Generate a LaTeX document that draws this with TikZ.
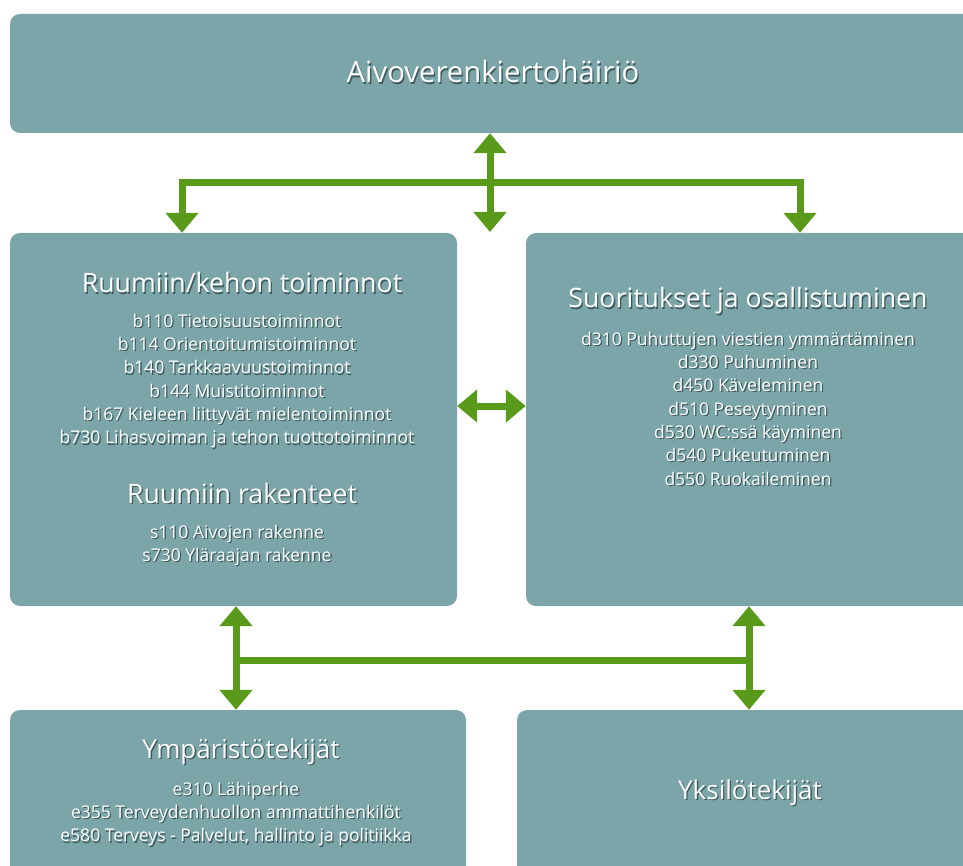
\documentclass[tikz,border=0pt]{standalone}
\usepackage{fontspec}
\setmainfont{Open Sans}
\usetikzlibrary{arrows.meta}
\definecolor{boxc}{HTML}{7BA5A9}
\definecolor{greenc}{HTML}{5A9A1B}
\definecolor{shadowc}{HTML}{3E5A5C}
\newcommand\sh[1]{\leavevmode\rlap{\kern1.3pt\raisebox{-1.3pt}{\color{shadowc}#1}}#1}
\tikzset{
  box/.style={fill=boxc, draw=none, rounded corners=10pt},
  ttl/.style={text=white, anchor=base, font=\fontsize{26}{30}\selectfont, inner sep=0pt},
  hd/.style={text=white, anchor=base, font=\fontsize{26.7}{30}\selectfont, inner sep=0pt},
  lst/.style={text=white, anchor=base, align=center, font=\fontsize{17.5}{23.33}\selectfont, inner sep=0pt},
  arrboth/.style={draw=greenc, line width=7pt, {Triangle[width=32pt,length=20pt]}-{Triangle[width=32pt,length=20pt]}},
  arrone/.style={draw=greenc, line width=7pt, -{Triangle[width=32pt,length=20pt]}},
}
\begin{document}
\begin{tikzpicture}[x=1pt,y=-1pt]
\useasboundingbox (0,0) rectangle (963,866);
\clip (0,0) rectangle (963,866);
% boxes
\node[box, minimum width=975pt, minimum height=119pt] (top) at (497.5,73.5) {};
\node[box, minimum width=447pt, minimum height=373pt] (bf) at (233.5,419.5) {};
\node[box, minimum width=460pt, minimum height=373pt] (act) at (756,419.5) {};
\node[box, minimum width=456pt, minimum height=166pt] (env) at (238,793) {};
\node[box, minimum width=470pt, minimum height=166pt] (pers) at (752,793) {};
% texts
\node[ttl, font=\fontsize{29.3}{32}\selectfont] (ttop) at (493,83) {\sh{Aivoverenkiertohäiriö}};
\node[hd] (hbf) at (242,293) {\sh{Ruumiin/kehon toiminnot}};
\node[lst] (lbf) at (237,443.7) {\sh{b110 Tietoisuustoiminnot}\\ \sh{b114 Orientoitumistoiminnot}\\ \sh{b140 Tarkkaavuustoiminnot}\\ \sh{b144 Muistitoiminnot}\\ \sh{b167 Kieleen liittyvät mielentoiminnot}\\ \sh{b730 Lihasvoiman ja tehon tuottotoiminnot}};
\node[hd] (hst) at (242,503) {\sh{Ruumiin rakenteet}};
\node[lst] (lst) at (237,561.5) {\sh{s110 Aivojen rakenne}\\ \sh{s730 Yläraajan rakenne}};
\node[hd] (hact) at (748,308) {\sh{Suoritukset ja osallistuminen}};
\node[lst] (lact) at (748,485) {\sh{d310 Puhuttujen viestien ymmärtäminen}\\ \sh{d330 Puhuminen}\\ \sh{d450 Käveleminen}\\ \sh{d510 Peseytyminen}\\ \sh{d530 WC:ssä käyminen}\\ \sh{d540 Pukeutuminen}\\ \sh{d550 Ruokaileminen}};
\node[ttl] (henv) at (241,758) {\sh{Ympäristötekijät}};
\node[lst] (lenv) at (236,841.7) {\sh{e310 Lähiperhe}\\ \sh{e355 Terveydenhuollon ammattihenkilöt}\\ \sh{e580 Terveys - Palvelut, hallinto ja politiikka}};
\node[ttl] (hpers) at (750,799) {\sh{Yksilötekijät}};
% connectors
\coordinate (hub) at (490,183);
\coordinate (hl) at (182,183);
\coordinate (hr) at (800,183);
\coordinate (gap) at (490,232);
\draw[arrone] (hub) -- (hub |- top.south);
\draw[arrone] (hub) -- (gap);
\draw[arrboth] (hl |- bf.north) -- (hl) -- (hr) -- (hr |- act.north);
\coordinate (mid) at (490,406);
\draw[arrboth] (bf.east |- mid) -- (act.west |- mid);
\coordinate (bl) at (236,660);
\coordinate (br) at (749,660);
\draw[arrboth] (bl |- bf.south) -- (bl |- env.north);
\draw[arrboth] (br |- act.south) -- (br |- pers.north);
\draw[draw=greenc, line width=7pt] (bl) -- (br);
\end{tikzpicture}
\end{document}
